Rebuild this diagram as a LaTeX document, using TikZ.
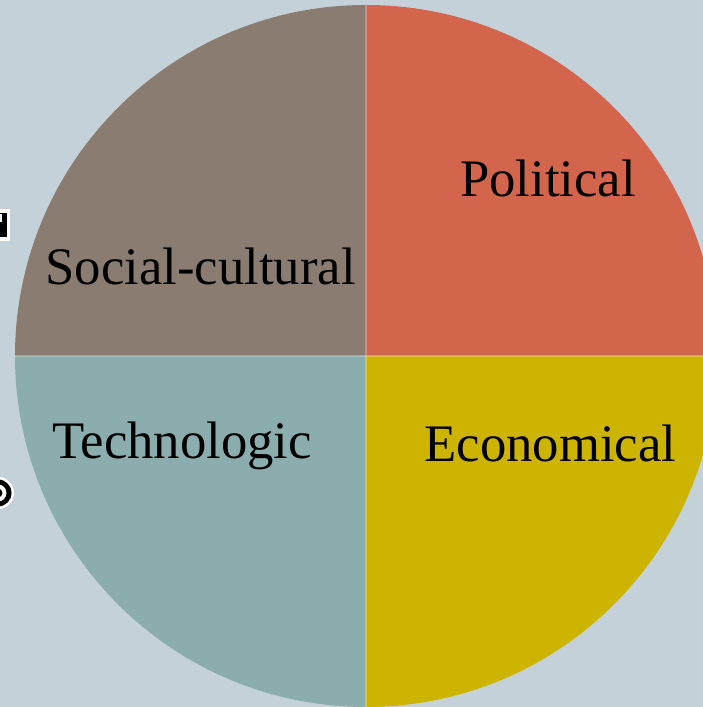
\documentclass[tikz,border=0pt]{standalone}
\usepackage{fontspec}
\setmainfont{Liberation Serif}
\usetikzlibrary{positioning}

\definecolor{bgblue}{RGB}{197,209,216}
\definecolor{socialbrown}{RGB}{139,124,114}
\definecolor{politicalred}{RGB}{210,101,75}
\definecolor{technoteal}{RGB}{139,173,174}
\definecolor{econyellow}{RGB}{205,180,0}

\begin{document}
\begin{tikzpicture}[
    % overall styles
    sector/.style={draw=none},
    label text/.style={font=\fontsize{30}{35}\selectfont, text=black, inner sep=0pt},
    divider/.style={white, opacity=0.25, line width=0.6pt}
]

    % --- 1. background and clip ---
    \fill[bgblue] (0,0) rectangle (14.06,14.14);
    \useasboundingbox (0,0) rectangle (14.06,14.14);
    \clip (0,0) rectangle (14.06,14.14);

    % --- 2. circle centre and the four quarters ---
    \coordinate (c) at (7.32,7.02);
    \def\rad{7.02}
    \fill[sector, politicalred] (c) -- ++(0,\rad) arc[start angle=90, end angle=0, radius=\rad] -- cycle;
    \fill[sector, socialbrown] (c) -- ++(-\rad,0) arc[start angle=180, end angle=90, radius=\rad] -- cycle;
    \fill[sector, technoteal] (c) -- ++(0,-\rad) arc[start angle=270, end angle=180, radius=\rad] -- cycle;
    \fill[sector, econyellow] (c) -- ++(\rad,0) arc[start angle=0, end angle=-90, radius=\rad] -- cycle;
    % thin lines between the quarters
    \draw[divider] (c) -- ++(0,\rad);
    \draw[divider] (c) -- ++(0,-\rad);
    \draw[divider] (c) -- ++(\rad,0);
    \draw[divider] (c) -- ++(-\rad,0);

    % --- 3. labels ---
    \node[label text, anchor=base] (political) at (10.96,10.20) {Political};
    \node[label text, anchor=base] (social) at (4.01,8.44) {Social-cultural};
    \node[label text, anchor=base] (techno) at (3.64,4.96) {Technologic};
    \node[label text, anchor=base] (econ) at (11.01,4.90) {Economical};

    % --- 4. clipped pieces at the left edge ---
    \fill[black, draw=white, line width=2.2pt] (-0.10,9.36) rectangle (0.17,9.92);
    \fill[white] (-0.05,9.70) rectangle (0.04,9.86);
    \fill[white] (-0.04,4.28) circle (0.32);
    \fill[black] (-0.04,4.28) circle (0.27);
    \fill[white] (-0.04,4.28) circle (0.17);
    \fill[black] (-0.04,4.28) circle (0.09);

\end{tikzpicture}
\end{document}
